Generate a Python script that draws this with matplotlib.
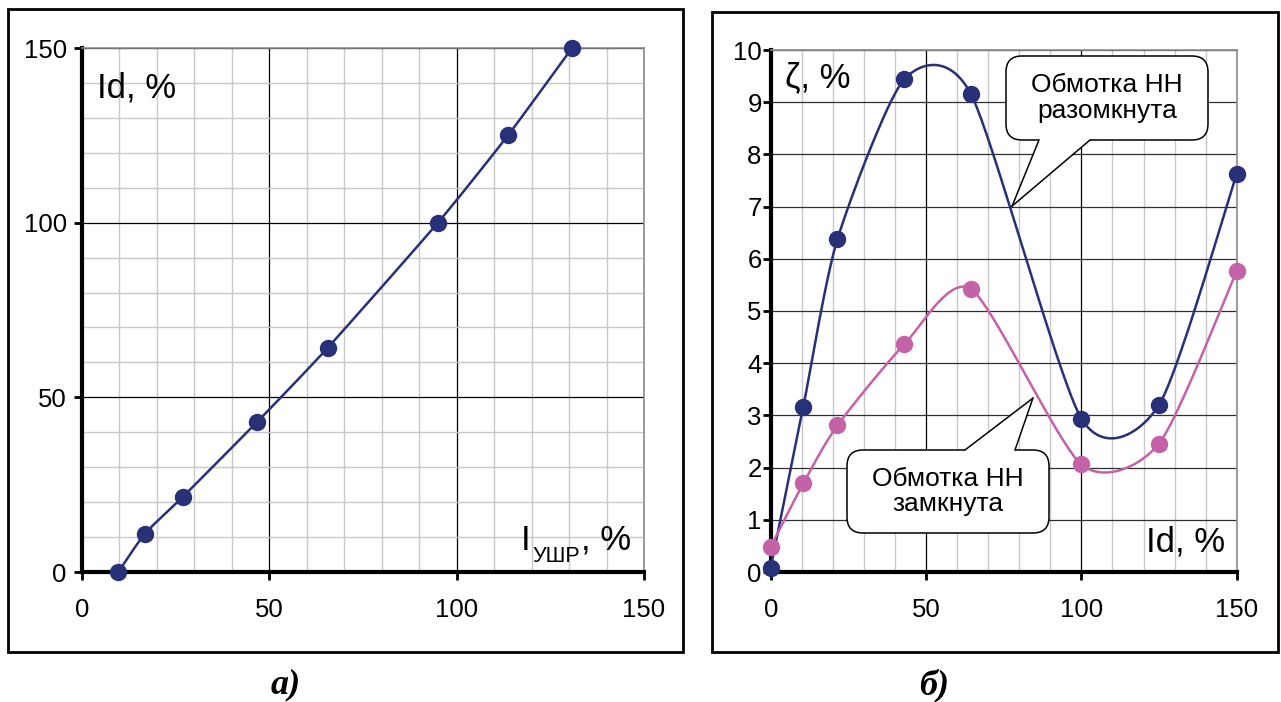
import numpy as np
import matplotlib
matplotlib.use('Agg')
import matplotlib.pyplot as plt
from matplotlib.patches import Rectangle, FancyBboxPatch, Polygon
from matplotlib.transforms import IdentityTransform
from matplotlib.lines import Line2D

plt.rcParams['font.family'] = ['Liberation Sans', 'DejaVu Sans']

# ---------------- data ----------------
# panel a): Id versus I_УШР
i_ushr = [9.7, 16.8, 26.9, 46.6, 65.6, 95.0, 113.7, 130.8]
id_a = [0.0, 11.0, 21.5, 42.8, 64.2, 100.0, 125.0, 150.0]

# panel б): ζ versus Id
id_b = [0, 10.5, 21.5, 43, 64.5, 100, 125, 150]
zeta_open = [0.08, 3.17, 6.38, 9.44, 9.15, 2.94, 3.20, 7.63]
zeta_closed = [0.48, 1.70, 2.81, 4.36, 5.42, 2.06, 2.46, 5.77]

x_ticks = [0, 50, 100, 150]
ya_ticks = [0, 50, 100, 150]
yb_ticks = list(range(0, 11))

label_a = 'а)'
label_b = 'б)'
callout_open = 'Обмотка НН\nразомкнута'
callout_closed = 'Обмотка НН\nзамкнута'

NAVY = '#283078'
PINK = '#C462A8'

W, H = 1281, 702
fig = plt.figure(figsize=(W / 100, H / 100), dpi=100)


def px_rect(x0, y0, x1, y1):
    return [x0 / W, 1 - y1 / H, (x1 - x0) / W, (y1 - y0) / H]


# outer frames
for (x0, y0, x1, y1) in [(8, 9, 683, 652), (712, 12, 1278, 652)]:
    fig.add_artist(Rectangle((x0 / W, 1 - y1 / H), (x1 - x0) / W, (y1 - y0) / H,
                             transform=fig.transFigure, fill=False,
                             ec='black', lw=2))

axA = fig.add_axes(px_rect(82, 48, 644, 572))
axB = fig.add_axes(px_rect(770.7, 50, 1236.7, 572))


def style(ax, ymax, yticks, yminor, ygrid_color):
    ax.set_xlim(0, 150)
    ax.set_ylim(0, ymax)
    ax.set_xticks(x_ticks)
    ax.set_xticks([v for v in range(0, 151, 10) if v % 50], minor=True)
    ax.set_yticks(yticks)
    ax.set_yticks(yminor, minor=True)
    ax.grid(which='minor', color='#C8C8C8', lw=1.0)
    ax.grid(which='major', axis='x', color='black', lw=0.9)
    ax.grid(which='major', axis='y', color=ygrid_color, lw=0.9)
    ax.set_axisbelow(True)
    ax.tick_params(which='minor', length=0)
    ax.tick_params(which='major', direction='out', length=6, width=2,
                   labelsize=18.5, color='black')
    for s in ('left', 'bottom'):
        ax.spines[s].set_linewidth(3)
        ax.spines[s].set_color('black')
    for s in ('top', 'right'):
        ax.spines[s].set_linewidth(1.2)
        ax.spines[s].set_color('#8C8C8C')


style(axA, 150, ya_ticks, [v for v in range(0, 151, 10) if v % 50], 'black')
axA.tick_params(axis='y', pad=5)
axA.tick_params(axis='x', pad=13)
style(axB, 10, yb_ticks, [], '#303030')
axB.tick_params(axis='y', pad=0.5)
axB.tick_params(axis='x', pad=13)


def smooth_curve(ax, xs, ys, f=0.12, n=40):
    """Spreadsheet-style smoothed line through the points (cubic Bezier)."""
    P = ax.transData.transform(np.column_stack([xs, ys]))
    ext = np.vstack([P[0], P, P[-1]])
    out = [P[0]]
    t = np.linspace(0, 1, n)[1:, None]
    for i in range(len(P) - 1):
        p0, p1, p2, p3 = ext[i], ext[i + 1], ext[i + 2], ext[i + 3]
        b1 = p1 + (p2 - p0) * f
        b2 = p2 - (p3 - p1) * f
        seg = ((1 - t) ** 3) * p1 + 3 * ((1 - t) ** 2) * t * b1 \
            + 3 * (1 - t) * t ** 2 * b2 + t ** 3 * p2
        out.extend(seg)
    out = np.array(out)
    return ax.transData.inverted().transform(out)


def draw_series(ax, xs, ys, color, f=0.12):
    c = smooth_curve(ax, xs, ys, f=f)
    ax.plot(c[:, 0], c[:, 1], color=color, lw=1.8, clip_on=False, zorder=3)
    ax.plot(xs, ys, 'o', color=color, ms=11.5, mec=color, clip_on=False,
            zorder=4)


draw_series(axA, i_ushr, id_a, NAVY, f=0.1)
draw_series(axB, id_b, zeta_open, NAVY)
draw_series(axB, id_b, zeta_closed, PINK)

# axis captions
fig.text(97 / W, 1 - 97 / H, 'Id, %', fontsize=25, va='baseline', ha='left')
fig.text(521 / W, 1 - 550 / H, 'I', fontsize=25, va='baseline', ha='left')
fig.text(532 / W, 1 - 562 / H, 'УШР', fontsize=15.5, va='baseline', ha='left')
fig.text(581 / W, 1 - 550 / H, ', %', fontsize=25, va='baseline', ha='left')
fig.text(785 / W, 1 - 87 / H, 'ζ, %', fontsize=25, va='baseline', ha='left')
fig.text(1146 / W, 1 - 552 / H, 'Id, %', fontsize=25, va='baseline', ha='left')

# panel labels
for x, lab in [(286, label_a), (934, label_b)]:
    fig.text(x / W, 1 - 685 / H, lab, fontsize=26, ha='center', va='center',
             family='Liberation Serif', weight='bold', style='italic')


def callout(ax, box, base_x, tip_data, text, pointer_down=True):
    """box=(x0,y0,x1,y1) in image px (top-left origin)."""
    x0, y0, x1, y1 = box
    d = lambda px, py: (px, H - py)
    bx0, by0 = d(x0, y1)
    p = FancyBboxPatch((bx0, by0), x1 - x0, y1 - y0,
                       boxstyle='round,pad=0,rounding_size=16',
                       transform=IdentityTransform(), fc='white',
                       ec='black', lw=1.1, zorder=10)
    fig.add_artist(p)
    tip = ax.transData.transform(tip_data)
    base_y = y1 if pointer_down else y0
    inside = -4 if pointer_down else 4
    (ax1, ay1), (ax2, ay2) = d(base_x[0], base_y), d(base_x[1], base_y)
    poly = Polygon([(ax1, ay1 - inside), (ax1, ay1), tuple(tip), (ax2, ay2),
                    (ax2, ay2 - inside)], closed=True,
                   transform=IdentityTransform(), fc='white', ec='none',
                   zorder=11)
    fig.add_artist(poly)
    for (bx, by) in [(ax1, ay1), (ax2, ay2)]:
        fig.add_artist(Line2D([bx, tip[0]], [by, tip[1]], color='black',
                              lw=1.1, transform=IdentityTransform(),
                              zorder=12))
    cx, cy = d((x0 + x1) / 2, (y0 + y1) / 2)
    fig.text(cx / W, cy / H, text, fontsize=19, ha='center', va='center',
             linespacing=1.1, zorder=13)


callout(axB, (1006, 56, 1208, 140), (1039, 1090), (77.7, 7.01),
        callout_open, pointer_down=True)
callout(axB, (847, 450, 1049, 533), (965, 1015), (84.4, 3.33),
        callout_closed, pointer_down=False)

fig.savefig('out.png', dpi=100)
